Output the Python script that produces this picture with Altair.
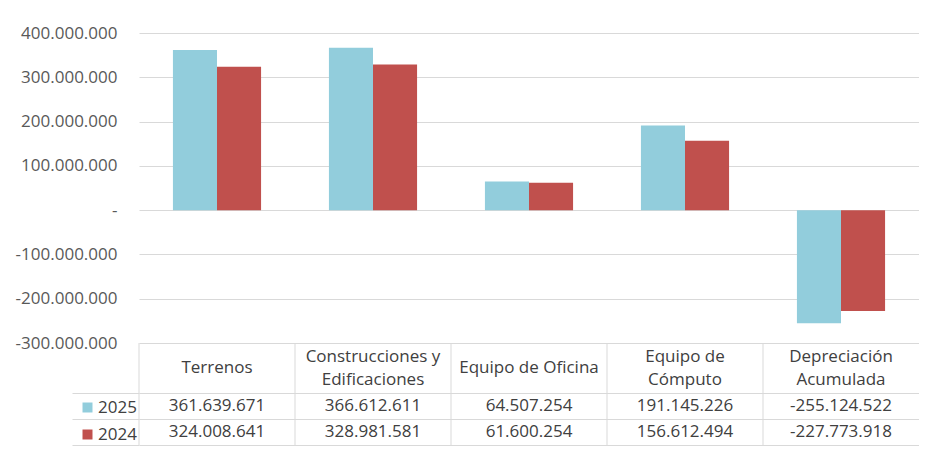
import altair as alt
import pandas as pd

categories = ["Terrenos", "Construcciones y Edificaciones", "Equipo de Oficina",
              "Equipo de Cómputo", "Depreciación Acumulada"]
header_labels = ["Terrenos", "Construcciones y\nEdificaciones", "Equipo de Oficina",
                 "Equipo de\nCómputo", "Depreciación\nAcumulada"]
years = ["2025", "2024"]
values_2025 = [361639671, 366612611, 64507254, 191145226, -255124522]
values_2024 = [324008641, 328981581, 61600254, 156612494, -227773918]
colors = ["#92CDDC", "#C0504D"]
y_ticks = [-300000000, -200000000, -100000000, 0, 100000000, 200000000, 300000000, 400000000]


def fmt(v):
    return f"{v:,}".replace(",", ".")


rows = []
for yr, vals in zip(years, [values_2025, values_2024]):
    for c, v in zip(categories, vals):
        rows.append({"category": c, "year": yr, "value": v, "label": fmt(v)})
df = pd.DataFrame(rows)
hdr = pd.DataFrame({"category": categories, "header": header_labels})

FONT = "Open Sans"
FS = 17
LH = 23
GRID = "#D9D9D9"
TXT = "#404040"
W = 780
NOVIEW = alt.ViewBackground(stroke="transparent", strokeWidth=0)

xscale = alt.Scale(domain=categories, paddingInner=0, paddingOuter=0)
label_expr = ("datum.value == 0 ? '-' : (datum.value < 0 ? '-' : '') + "
              "replace(format(abs(datum.value), ',d'), /,/g, '.')")

bars = alt.Chart(df).mark_bar().encode(
    x=alt.X("category:N", sort=categories, scale=xscale, axis=None),
    xOffset=alt.XOffset("year:N", sort=years,
                        scale=alt.Scale(domain=years, paddingInner=0, paddingOuter=0.77)),
    y=alt.Y("value:Q", scale=alt.Scale(domain=[-300000000, 400000000], nice=False, zero=False),
            axis=alt.Axis(values=y_ticks, labelExpr=label_expr, grid=True, gridColor=GRID,
                          domain=False, ticks=False, labelPadding=22, labelFontSize=FS,
                          labelColor="#595959", labelFont=FONT, title=None)),
    color=alt.Color("year:N", sort=years,
                    scale=alt.Scale(domain=years, range=colors),
                    legend=alt.Legend(orient="none", legendX=-60, legendY=366, title=None,
                                      symbolType="square", symbolSize=100, symbolStrokeWidth=0,
                                      labelFontSize=FS, labelFont=FONT, labelColor=TXT,
                                      rowPadding=9, labelOffset=2)),
).properties(width=W, height=310, view=NOVIEW)

# column separators of the data table (at the left edge of each category band)
col_lines = alt.Chart(hdr).mark_rule(color=GRID, strokeWidth=1).encode(
    x=alt.X("category:N", sort=categories, scale=xscale, axis=None, bandPosition=0),
)

hdr_base = alt.Chart(hdr).encode(
    x=alt.X("category:N", sort=categories, scale=xscale, axis=None),
    text="header:N",
)
hdr_single = hdr_base.mark_text(lineBreak="\n", fontSize=FS, color=TXT, font=FONT,
                                lineHeight=LH).transform_filter(
    "indexof(datum.header, '\\n') < 0")
hdr_double = hdr_base.mark_text(lineBreak="\n", fontSize=FS, color=TXT, font=FONT,
                                lineHeight=LH, dy=-LH / 2).transform_filter(
    "indexof(datum.header, '\\n') >= 0")
header = alt.layer(col_lines, hdr_single, hdr_double).properties(width=W, height=50,
                                                                 view=NOVIEW)

table_text = alt.Chart(df).mark_text(fontSize=FS, color=TXT, font=FONT).encode(
    x=alt.X("category:N", sort=categories, scale=xscale, axis=None),
    y=alt.Y("year:N", sort=years, scale=alt.Scale(domain=years, paddingInner=0, paddingOuter=0),
            axis=alt.Axis(grid=True, tickBand="extent", gridColor=GRID, ticks=True,
                          tickSize=67, tickColor=GRID, labels=False, domain=False, title=None)),
    text="label:N",
)
table = alt.layer(col_lines, table_text).properties(width=W, height=52, view=NOVIEW)

chart = alt.vconcat(bars, header, table, spacing=0, bounds="flush").properties(
    padding={"left": 7, "top": 16, "right": 0, "bottom": 0}
).configure_view(stroke="transparent", strokeWidth=0).configure(background="white")

chart.save("out.html", embed_options={"renderer": "svg", "actions": False})
